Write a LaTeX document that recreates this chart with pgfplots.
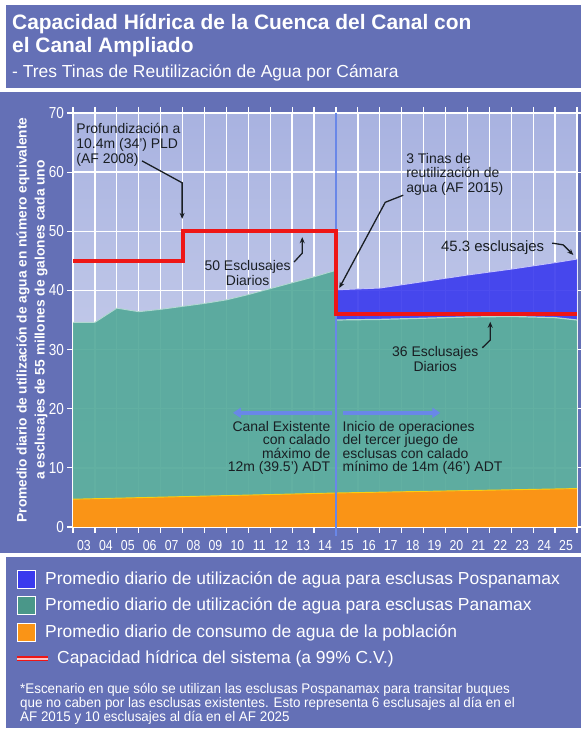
\documentclass[border=0pt]{standalone}
\usepackage{pgfplots}
\pgfplotsset{compat=1.18}
\usepackage{fontspec}
\setmainfont{Liberation Sans}
\usetikzlibrary{arrows.meta}
\definecolor{panel}{RGB}{100,112,182}
\definecolor{tealc}{RGB}{82,168,152}
\definecolor{orangec}{RGB}{250,148,22}
\definecolor{bluec}{RGB}{58,58,238}
\definecolor{redc}{RGB}{238,22,22}
\definecolor{ltblue}{RGB}{105,135,232}
\definecolor{bgtop}{RGB}{168,178,224}
\definecolor{bgbot}{RGB}{214,219,240}
\definecolor{txt}{RGB}{25,30,35}
\begin{document}
\begin{tikzpicture}[x=1bp,y=1bp]
\fill[white] (0,0) rectangle (581,737);
\fill[panel] (6,649) rectangle (581,732);
\fill[panel] (0,184) rectangle (581,645);
\fill[panel] (6,9) rectangle (581,180);
\node[anchor=base west, text=white, font=\bfseries\fontsize{21}{22}\selectfont, inner sep=0] at (12,707) {Capacidad Hídrica de la Cuenca del Canal con};
\node[anchor=base west, text=white, font=\bfseries\fontsize{21}{22}\selectfont, inner sep=0] at (12,684) {el Canal Ampliado};
\node[anchor=base west, text=white, font=\fontsize{17.5}{18}\selectfont, inner sep=0] at (12,659) {- Tres Tinas de Reutilización de Agua por Cámara};
\node[rotate=90, align=center, text=white, font=\bfseries\fontsize{13.8}{18}\selectfont] at (32,417) {Promedio diario de utilización de agua en número equivalente\\a esclusajes de 55 millones de galones cada uno};
\begin{axis}[
  at={(73bp,210bp)}, anchor=south west,
  width=504bp, height=414bp, scale only axis,
  xmin=0, xmax=23, ymin=0, ymax=70,
  clip=false,
  axis background/.style={top color=bgtop, bottom color=bgbot},
  axis line style={white, line width=1.2bp},
  xtick={0.5,1.5,...,22.5},
  xticklabels={03,04,05,06,07,08,09,10,11,12,13,14,15,16,17,18,19,20,21,22,23,24,25},
  major x tick style={draw=none},
  minor xtick={0,1,...,23},
  minor x tick style={white, line width=1.2bp},
  minor tick length=6bp,
  xminorgrids,
  minor x grid style={white, line width=1.3bp},
  ytick={0,10,...,70},
  yticklabels={0,10,20,30,40,50,60,70},
  major y tick style={white, line width=1.2bp},
  major tick length=6bp,
  tick align=outside,
  ymajorgrids,
  major y grid style={white, line width=1.3bp},
  xticklabel style={text=white, font=\fontsize{14.5}{14}\selectfont, xscale=0.85, yshift=-4bp},
  yticklabel style={text=white, font=\fontsize{16}{15}\selectfont, xscale=0.85},
]
% Pospanamax band
\addplot[fill=bluec, fill opacity=0.9, draw=none] coordinates {
 (12,35.0) (14,35.1) (16,35.3) (18,35.5) (20,35.6) (22,35.4) (23,35.0)
 (23,45.3) (22,44.7) (20,43.6) (18,42.6) (16,41.5) (14,40.4) (12,40.1)} -- cycle;
% Panamax band
\addplot[fill=tealc, fill opacity=0.9, draw=none] coordinates {
 (0,4.7) (12,5.75) (23,6.5)
 (23,35.0) (22,35.4) (20,35.6) (18,35.5) (16,35.3) (14,35.1) (12,35.0)
 (12,43.4) (11,42.3) (10,41.3) (9,40.3) (8,39.3) (7,38.4) (6,37.8) (5,37.3) (4,36.8) (3,36.4) (2,37.0) (1,34.6) (0,34.6)} -- cycle;
% population
\addplot[fill=orangec, draw=none] coordinates {
 (0,0) (23,0) (23,6.5) (12,5.75) (0,4.7)} -- cycle;
% edges
\addplot[white!55!tealc, line width=0.9bp] coordinates {(0,34.6) (1,34.6) (2,37.0) (3,36.4) (4,36.8) (5,37.3) (6,37.8) (7,38.4) (8,39.3) (9,40.3) (10,41.3) (11,42.3) (12,43.4)};
\addplot[white!55!tealc, line width=1.2bp] coordinates {(12,35.0) (14,35.1) (16,35.3) (18,35.5) (20,35.6) (22,35.4) (23,35.0)};
\addplot[white!70!bluec, line width=0.9bp] coordinates {(12,40.1) (14,40.4) (16,41.5) (18,42.6) (20,43.6) (22,44.7) (23,45.3)};
\addplot[yellow!60!orangec, line width=0.9bp] coordinates {(0,4.7) (12,5.75) (23,6.5)};
% divider
\addplot[ltblue, line width=1.6bp] coordinates {(12,-1.6) (12,70)};
% capacity
\addplot[redc, line width=4bp] coordinates {(0,45) (5,45) (5,50) (12,50) (12,36) (23,36)};
% annotations
\begin{scope}[every node/.style={text=txt, font=\fontsize{14}{15}\selectfont, inner sep=0}]
\node[anchor=north west, align=left] at (axis cs:0.15,68.3) {Profundización a\\10.4m (34') PLD\\(AF 2008)};
\node[align=center] at (axis cs:7.97,43.0) {50 Esclusajes\\Diarios};
\node[anchor=north west, align=left, font=\fontsize{14}{14.5}\selectfont] at (axis cs:15.2,63.2) {3 Tinas de\\reutilización de\\agua (AF 2015)};
\node[font=\fontsize{15}{15}\selectfont] at (axis cs:19.15,47.3) {45.3 esclusajes};
\node[align=center] at (axis cs:16.53,28.4) {36 Esclusajes\\Diarios};
\node[anchor=north east, align=right, font=\fontsize{14}{13.5}\selectfont] at (axis cs:11.75,17.9) {Canal Existente\\con calado\\máximo de\\12m (39.5') ADT};
\node[anchor=north west, align=left, font=\fontsize{14}{13.5}\selectfont] at (axis cs:12.3,17.9) {Inicio de operaciones\\del tercer juego de\\esclusas con calado\\mínimo de 14m (46') ADT};
\end{scope}
\begin{scope}[line width=1.3bp, txt, -{Stealth[length=6bp,width=5bp]}]
\draw (axis cs:3.15,61.9) -- (axis cs:4.98,58.2) -- (axis cs:4.98,52.1);
\draw (axis cs:10.09,44.8) -- (axis cs:10.46,46.3) -- (axis cs:10.46,49.0);
\draw (axis cs:15.07,56.1) -- (axis cs:14.25,54.9) -- (axis cs:12.15,40.4);
\draw (axis cs:21.87,48.0) -- (axis cs:22.37,47.7) -- (axis cs:22.83,46.0);
\draw (axis cs:18.68,30.3) -- (axis cs:19.04,31.6) -- (axis cs:19.04,34.7);
\end{scope}
\draw[ltblue, line width=4bp, -{Triangle[length=8bp,width=10bp]}] (axis cs:11.8,19.3) -- (axis cs:7.3,19.3);
\draw[ltblue, line width=4bp, -{Triangle[length=8bp,width=10bp]}] (axis cs:12.3,19.3) -- (axis cs:16.76,19.3);
\end{axis}
% legend
\filldraw[fill=bluec, draw=white, line width=1bp] (17,148) rectangle (35,166);
\filldraw[fill=tealc!90!black, draw=white, line width=1bp] (17,122) rectangle (35,140);
\filldraw[fill=orangec, draw=white, line width=1bp] (17,95) rectangle (35,113);
\draw[redc, line width=5bp] (17,78) -- (48,78);
\draw[white!75!redc, line width=1.2bp] (17,78) -- (48,78);
\begin{scope}[every node/.style={anchor=west, text=white, font=\fontsize{17.5}{18}\selectfont, inner sep=0}]
\node at (45,157) {Promedio diario de utilización de agua para esclusas Pospanamax};
\node at (45,131) {Promedio diario de utilización de agua para esclusas Panamax};
\node at (45,104) {Promedio diario de consumo de agua de la población};
\node at (57,78) {Capacidad hídrica del sistema (a 99\% C.V.)};
\end{scope}
\begin{scope}[every node/.style={anchor=base west, text=white, font=\fontsize{14}{13}\selectfont, inner sep=0, xscale=0.96}]
\node at (20,43) {*Escenario en que sólo se utilizan las esclusas Pospanamax para transitar buques};
\node at (20,29) {que no caben por las esclusas existentes. Esto representa 6 esclusajes al día en el};
\node at (20,15) {AF 2015 y 10 esclusajes al día en el AF 2025};
\end{scope}
\end{tikzpicture}
\end{document}
